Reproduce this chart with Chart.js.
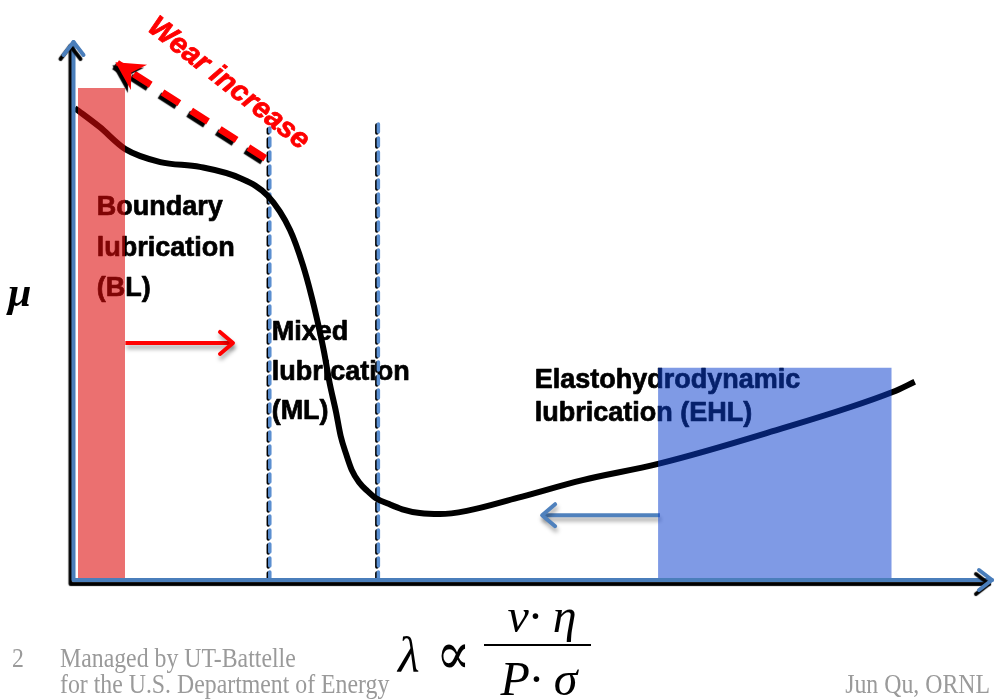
<!DOCTYPE html>
<html>
<head>
<meta charset="utf-8">
<title>Stribeck curve</title>
<script src="https://cdn.jsdelivr.net/npm/chart.js@4/dist/chart.umd.min.js"></script>
<style>
  html, body { margin: 0; padding: 0; background: #ffffff; }
  #wrap { width: 996px; height: 700px; position: relative; }
</style>
</head>
<body>
<div id="wrap"><canvas id="stribeck"></canvas></div>
<script>
// Stribeck curve: friction coefficient (mu) against film parameter (lambda), arbitrary units 0-100
const curveLambda = [0.3, 3.0, 5.8, 9.6, 13.9, 18.3, 21.3, 23.7, 25.1, 26.0, 26.7, 27.4, 28.0,
                     28.7, 29.2, 29.8, 30.4, 31.2, 32.1, 33.0, 34.4, 35.9, 37.8, 40.0, 42.9,
                     48.4, 55.5, 63.7, 75.5, 89.2, 91.6];
const curveMu     = [87.4, 83.9, 79.8, 77.4, 76.5, 74.4, 71.1, 64.8, 58.3, 52.8, 47.8, 42.2, 36.5,
                     31.1, 26.7, 23.3, 20.4, 18.1, 16.5, 15.2, 14.1, 13.1, 12.4, 12.2, 12.8,
                     15.2, 18.5, 21.5, 27.2, 34.8, 36.7];

// regime dividers: lambda position and top of the dashed line
const dividerLambda = [21.5, 33.3];
const dividerTop    = [83.7, 84.8];

// shaded regimes: lambda from, lambda to, mu top (bottom at mu = 0)
const blBand  = [0.65, 5.76, 91.1];
const ehlBand = [63.7, 89.1, 39.3];

// arrows: lambda from, mu from, lambda to, mu to
const wearArrow     = [21.0, 78.1, 4.9, 95.7];
const blShiftArrow  = [5.8, 43.9, 17.5, 43.9];
const ehlShiftArrow = [63.9, 12.0, 51.1, 12.0];

// texts
const blLabel   = ['Boundary', 'lubrication', '(BL)'];
const mlLabel   = ['Mixed', 'lubrication', '(ML)'];
const ehlLabel  = ['Elastohydrodynamic', 'lubrication (EHL)'];
const wearLabel = 'Wear increase';
const yTitle    = 'μ';
const footerLeft  = ['Managed by UT-Battelle', 'for the U.S. Department of Energy'];
const footerRight = 'Jun Qu, ORNL';
const slideNumber = '2';

const pts = (xs, ys) => xs.map((x, i) => ({ x: x, y: ys[i] }));
const seg = a => [{ x: a[0], y: a[1] }, { x: a[2], y: a[3] }];
const band = b => [{ x: b[0], y: b[2] }, { x: b[1], y: b[2] }];

const AXIS_BLUE = '#4a7ebb';
const hardShadow = { color: '#000000', dx: -3, dy: 3, blur: 1 };
const softShadow = { color: 'rgba(0,0,0,0.35)', dx: 1, dy: 4, blur: 4 };

const datasets = [
  { label: 'BL band', data: band(blBand), fill: 'origin', backgroundColor: 'rgba(220,8,8,0.58)',
    borderColor: 'transparent', borderWidth: 0, order: 0 },
  { label: 'EHL band', data: band(ehlBand), fill: 'origin', backgroundColor: 'rgba(10,62,205,0.52)',
    borderColor: 'transparent', borderWidth: 0, order: 0 },
  { label: 'Friction', data: pts(curveLambda, curveMu), borderColor: '#000000', borderWidth: 6,
    cubicInterpolationMode: 'monotone', borderCapStyle: 'butt', order: 2 },
  { label: 'Wear increase', data: seg(wearArrow), borderColor: '#ff0000', borderWidth: 7,
    borderDash: [20, 14], shadow: hardShadow, head: 'stealth', order: 1 },
  { label: 'BL shift', data: seg(blShiftArrow), borderColor: '#ff0000', borderWidth: 4,
    shadow: softShadow, head: 'open', order: 1 },
  { label: 'EHL shift', data: seg(ehlShiftArrow), borderColor: '#4f81bd', borderWidth: 4,
    shadow: softShadow, head: 'open', order: 1 }
];
dividerLambda.forEach((x, i) => {
  datasets.push({ label: 'divider ' + (i + 1), data: [{ x: x, y: 0 }, { x: x, y: dividerTop[i] }],
    borderColor: '#5b8fd0', borderWidth: 3.5, borderDash: [8, 6], borderCapStyle: 'round',
    shadow: { color: '#000000', dx: -1.5, dy: 1, blur: 0 }, order: 3 });
});

function drawHead(ctx, p0, p1, kind, color, shadow) {
  const a = Math.atan2(p1.y - p0.y, p1.x - p0.x);
  ctx.save();
  if (shadow) {
    ctx.shadowColor = shadow.color; ctx.shadowOffsetX = shadow.dx;
    ctx.shadowOffsetY = shadow.dy; ctx.shadowBlur = shadow.blur;
  }
  ctx.translate(p1.x, p1.y);
  ctx.rotate(a);
  if (kind === 'stealth') {
    ctx.fillStyle = color;
    ctx.beginPath();
    ctx.moveTo(2, 0);
    ctx.lineTo(-26, -15);
    ctx.lineTo(-17, 0);
    ctx.lineTo(-26, 15);
    ctx.closePath();
    ctx.fill();
  } else {
    ctx.strokeStyle = color;
    ctx.lineWidth = 4;
    ctx.lineCap = 'round';
    ctx.lineJoin = 'round';
    ctx.beginPath();
    ctx.moveTo(-13, -11);
    ctx.lineTo(0, 0);
    ctx.lineTo(-13, 11);
    ctx.stroke();
  }
  ctx.restore();
}

const markStyle = {
  id: 'markStyle',
  beforeDatasetDraw(chart, args) {
    const ds = chart.data.datasets[args.index];
    if (!ds.shadow) return;
    const ctx = chart.ctx;
    ctx.save();
    ctx.shadowColor = ds.shadow.color;
    ctx.shadowOffsetX = ds.shadow.dx;
    ctx.shadowOffsetY = ds.shadow.dy;
    ctx.shadowBlur = ds.shadow.blur;
  },
  afterDatasetDraw(chart, args) {
    const ds = chart.data.datasets[args.index];
    if (ds.shadow) chart.ctx.restore();
    if (ds.head) {
      const el = chart.getDatasetMeta(args.index).data;
      drawHead(chart.ctx, el[el.length - 2], el[el.length - 1], ds.head, ds.borderColor, ds.shadow);
    }
  }
};

// heavy bold text: fill plus a thin stroke of the same colour
function boldText(ctx, t, x, y) {
  ctx.fillText(t, x, y);
  ctx.strokeText(t, x, y);
}

const annotations = {
  id: 'annotations',
  beforeDatasetsDraw(chart) {
    const ctx = chart.ctx, sx = chart.scales.x, sy = chart.scales.y;
    const X = v => sx.getPixelForValue(v), Y = v => sy.getPixelForValue(v);
    ctx.save();
    ctx.fillStyle = '#000000';
    ctx.strokeStyle = '#000000';
    ctx.lineWidth = 0.7;
    ctx.lineJoin = 'round';
    ctx.textBaseline = 'alphabetic';
    ctx.textAlign = 'left';
    ctx.font = 'bold 27px "Liberation Sans", Arial, sans-serif';
    const block = (lines, x, ys) => lines.forEach((t, i) => boldText(ctx, t, X(x), Y(ys[i])));
    block(blLabel, 2.7, [67.6, 60.0, 52.6]);
    block(mlLabel, 21.7, [44.4, 37.0, 29.8]);
    block(ehlLabel, 50.3, [35.6, 29.4]);

    // wear label, running along the dashed arrow
    ctx.save();
    ctx.translate(X(17.0), Y(91.9));
    ctx.rotate(38 * Math.PI / 180);
    ctx.fillStyle = '#ff0000';
    ctx.strokeStyle = '#ff0000';
    ctx.lineWidth = 0.8;
    ctx.font = 'italic bold 29px "Liberation Sans", Arial, sans-serif';
    ctx.textAlign = 'center';
    ctx.textBaseline = 'middle';
    boldText(ctx, wearLabel, 0, 0);
    ctx.restore();
    ctx.restore();
  },
  afterDatasetsDraw(chart) {
    const ctx = chart.ctx, sx = chart.scales.x, sy = chart.scales.y;
    const x0 = sx.getPixelForValue(0) + 1.5, y0 = sy.getPixelForValue(0);
    const xEnd = sx.getPixelForValue(sx.max), yEnd = sy.getPixelForValue(sy.max) + 2;
    ctx.save();
    ctx.shadowColor = '#000000';
    ctx.shadowOffsetX = -3;
    ctx.shadowOffsetY = 4;
    ctx.shadowBlur = 1;
    ctx.strokeStyle = AXIS_BLUE;
    ctx.lineWidth = 4;
    ctx.lineCap = 'round';
    ctx.lineJoin = 'round';
    ctx.beginPath();
    ctx.moveTo(x0, yEnd);
    ctx.lineTo(x0, y0);
    ctx.lineTo(xEnd, y0);
    ctx.stroke();
    ctx.beginPath();
    ctx.moveTo(x0 - 10, yEnd + 13);
    ctx.lineTo(x0, yEnd);
    ctx.lineTo(x0 + 10, yEnd + 13);
    ctx.stroke();
    ctx.beginPath();
    ctx.moveTo(xEnd - 13, y0 - 10);
    ctx.lineTo(xEnd, y0);
    ctx.lineTo(xEnd - 13, y0 + 10);
    ctx.stroke();
    ctx.restore();
  },
  afterDraw(chart) {
    const ctx = chart.ctx;
    ctx.save();
    ctx.fillStyle = '#000000';
    ctx.textAlign = 'left';
    ctx.textBaseline = 'alphabetic';
    // axis title
    ctx.font = 'italic bold 42px "Liberation Serif", "Times New Roman", serif';
    ctx.fillText(yTitle, 8, 306);

    // x axis title: lambda proportional to (v . eta) / (P . sigma)
    ctx.font = 'italic 50px "Liberation Serif", "Times New Roman", serif';
    ctx.fillText('λ', 398, 672);
    ctx.font = '60px "DejaVu Serif", serif';
    ctx.save();
    ctx.scale(0.85, 1);
    ctx.fillText('∝', 436 / 0.85, 674);
    ctx.restore();
    ctx.fillRect(484, 644, 107, 2);
    ctx.textAlign = 'center';
    ctx.font = 'italic 48px "Liberation Serif", "Times New Roman", serif';
    ctx.fillText('v· η', 542, 632);
    ctx.fillText('P· σ', 539, 695);

    // footer
    ctx.fillStyle = '#9a9a9a';
    ctx.font = '28px "Liberation Serif", "Times New Roman", serif';
    ctx.textAlign = 'left';
    ctx.save();
    ctx.scale(0.85, 1);
    ctx.fillText(slideNumber, 12 / 0.85, 667);
    ctx.fillText(footerLeft[0], 60 / 0.85, 667);
    ctx.fillText(footerLeft[1], 60 / 0.85, 693);
    ctx.textAlign = 'right';
    ctx.fillText(footerRight, 990 / 0.85, 693);
    ctx.restore();
    ctx.restore();
  }
};

new Chart(document.getElementById('stribeck'), {
  type: 'line',
  data: { datasets: datasets },
  options: {
    responsive: true,
    maintainAspectRatio: false,
    animation: false,
    layout: { padding: { left: 72, right: 4, top: 40, bottom: 120 } },
    elements: { point: { radius: 0, hoverRadius: 0 }, line: { tension: 0 } },
    plugins: { legend: { display: false }, tooltip: { enabled: false } },
    events: [],
    scales: {
      x: { type: 'linear', min: 0, max: 100, display: false },
      y: { type: 'linear', min: 0, max: 100, display: false }
    }
  },
  plugins: [markStyle, annotations]
});
</script>
</body>
</html>
